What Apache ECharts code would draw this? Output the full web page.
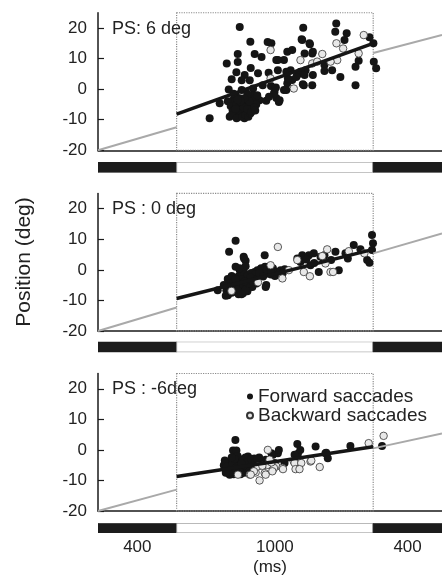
<!DOCTYPE html>
<html>
<head>
<meta charset="utf-8">
<script src="https://cdn.jsdelivr.net/npm/echarts@6/dist/echarts.min.js"></script>
<style>
html, body { margin: 0; padding: 0; background: #fff; }
#chart { width: 442px; height: 577px; }
</style>
</head>
<body>
<div id="chart"></div>
<script>
// time axis (ms): 400 ms pre, 1000 ms stimulus, 400 ms post (cut at xMax)
var xMax = 1750;
var phaseDurations = [400, 1000, 400];
var phaseLabels = ['400', '1000', '400'];
var yTicks = [-20, -10, 0, 10, 20];
var panelLabels = ['PS: 6 deg', 'PS : 0 deg', 'PS : -6deg'];

// PS 6 deg
var forward6 = [
  [721,20.3],[775,15.5],[863,15.4],[711,11.5],[797,11.5],[655,8.4],[711,8.9],[832,10.5],[777,6.9],[907,9.5],
  [704,5.5],[746,4.6],[814,5.2],[868,5.4],[680,3.2],[731,2.9],[772,2.9],[665,-0.1],[731,-0.3],[789,0.2],
  [838,1.3],[619,-4.6],[687,-3.6],[568,-9.5],[822,-3.6],[856,-3.8],[746,-5.7],[685,-6.9],[670,-9.0],[907,-2.9],
  [660,-4],[675,-5.5],[690,-7],[700,-8],[705,-5],[715,-6],[720,-3],[725,-8.5],[735,-7],[740,-4.5],
  [750,-6],[755,-8],[760,-3],[765,-5],[770,-7],[780,-4],[785,-6],[790,-2],[700,-2],[715,-9],
  [745,-9.5],[680,-8.5],[730,-5.5],[760,-1.5],[795,-3.5],[805,-5],[690,-1.5],[810,-2],
  [705,-9.5],[720,-7],[735,-9],[750,-8.5],[765,-9],[775,-8],[700,-6.5],[740,-6],[760,-6.5],[780,-7.5],
  [795,-6],[770,-4],[745,-3],[725,-4],[710,-3.5],[800,-7],
  [963,12.2],[988,12.8],[946,9.5],[1044,20.1],[1036,16.3],[1078,14.7],[1090,11.7],[980,6.2],[1014,4.6],[1056,6.2],
  [1047,1.3],[1090,1.3],[988,3.0],[963,1.9],[946,-0.3],[1030,5.7],[920,-4.2],
  [1212,21.5],[1207,18.8],[1265,18.3],[1254,16.1],[1381,17],[1401,15],[1039,16.1],[1076,15],[1093,12.2],[1051,11.7],
  [882,15],[1152,7.9],[1326,9.3],[1310,7.3],[1403,9.0],[1415,6.8],[1191,6.2],[1152,5.9],[1233,4.0],[1093,4.6],
  [1051,4.6],[1009,4.0],[958,5.7],[915,9.5],[915,6.2],[966,3.5],[1042,1.6],[1310,1.3],[958,-0.3],[924,-3.6],
  [898,-0.9],[880,1],[895,-1.5],[905,0.5],[870,-2.5]
];
var backward6 = [
  [878,12.8],[878,3.5],[1352,17.7],[1213,15],[1247,13.3],[1326,11.7],[1217,9.5],[1183,9.0],[1141,11.5],[1030,9.5],
  [1090,8.4],[1115,9.0],[996,0.2]
];
var fit6 = [[400,-8.2],[1400,15]];
var grayPre6 = [[0,-20],[400,-12.5]];
var grayPost6 = [[1400,11.8],[1750,17.7]];

// PS 0 deg
var forward0 = [
  [700,9.5],[667,5.9],[741,4.3],[751,3.0],[751,1.2],[848,4.8],[721,-0.1],[712,-2.3],[729,-3.9],[670,-4.5],
  [653,-6.7],[695,-7.2],[738,-7.7],[772,-5.6],[806,-4.5],[797,-0.7],[822,-0.1],[873,-0.1],[856,-5.0],[907,-0.7],
  [661,-8.3],[685,-5.6],[755,-3.4],[609,-6.7],[743,3.7],[734,-7.2],[785,-5.6],[811,-0.1],[853,-5.6],[929,-0.1],
  [1014,3.7],[1039,4.8],[1073,4.8],[1098,5.4],[1132,4.3],[1208,5.9],[1301,8.1],[1335,6.7],[1123,-0.7],[1225,-0.1],
  [1030,2.6],[1149,3.2],[1394,11.4],[1399,8.7],[1394,6.5],[1369,3.2],[1381,2.3],[1259,5.4],[1081,1.5],[1186,3.2],
  [1152,4.8],[1271,3.7],
  [640,-5],[660,-3],[680,-2],[700,-4],[705,-6],[720,-5],[730,-2],[745,-1],[760,-2],[770,-3.5],
  [780,-1],[790,-2.5],[800,-1.5],[830,-2],[840,-0.5],[860,-1],[880,-1.5],[900,-2],[760,-7],[715,-8],
  [680,-7.5],[830,0.5],[850,1],[890,0.5],[870,-1],[940,-1],[950,0.2],[1060,3.4],[1100,2.2],
  [650,-8.5],[670,-6],[690,-4],[710,-6.5],[725,-3],[740,-5],[750,-6.5],[765,-4.5],[775,-2.5],[790,-4],
  [700,-3],[730,-8],[745,-3.8],[810,-3],[820,-1],[840,-2.2],[860,0],[880,-0.2],[700,1],[720,0.5]
];
var backward0 = [
  [915,7.5],[878,1.5],[814,-4.1],[679,-6.9],[1166,6.7],[1141,4.5],[1276,6.1],[1355,5.4],[1014,3.2],[971,-0.1],
  [1047,-0.7],[1078,-2.1],[1183,-0.7],[1196,-0.7],[1157,2.1],[938,-2.8]
];
var fit0 = [[400,-9.4],[1400,6.7]];
var grayPre0 = [[0,-20],[400,-12.3]];
var grayPost0 = [[1400,5.4],[1750,11.9]];

// PS -6 deg
var forwardM6 = [
  [699,3.2],[687,-0.2],[704,-0.2],[763,-2.2],[890,-1.6],[915,-1.1],[831,-4.3],[670,-8.1],[853,-3.2],[920,0],
  [1014,1.9],[1107,1.1],[1157,-1.1],[1284,1.3],[1445,1.3],[1017,-1.3],[1029,0],[1000,-1.6],[1161,-0.9],[1169,-2.7],
  [882,-1.1],[949,-4.3],[898,-4.3],
  [640,-5],[650,-6.5],[660,-4],[670,-5.5],[680,-3.5],[690,-6],[700,-4.5],[705,-7],[715,-5],[720,-3],
  [730,-6],[740,-4],[745,-7.5],[755,-5.5],[765,-3.5],[775,-6],[785,-4.5],[795,-2.8],[805,-5.5],[815,-4],
  [660,-7.5],[690,-8],[725,-8],[750,-2.5],[710,-2],[820,-2.5],[840,-5],[860,-4.5],
  [645,-3.5],[655,-5.5],[675,-7],[685,-4.5],[695,-3],[710,-5.5],[720,-6.5],[735,-3.5],[745,-5],[760,-4],
  [770,-7],[780,-3],[790,-6],[800,-4],[810,-3],[825,-5],[700,-6],[730,-4.5],[650,-7.5],[680,-2.5]
];
var backwardM6 = [
  [864,0],[712,-8.1],[772,-8.1],[802,-7.4],[822,-10],[848,-7.6],[864,-4.9],[814,-5.4],[890,-6.5],[907,-5.4],
  [1377,2.2],[1453,4.6],[853,-8.1],[895,-5.9],[938,-5.9],[996,-3.8],[1022,-5.9],[1081,-3.8],[1128,-5.6],[793,-7],
  [777,-8.1],[836,-5.2],[882,-4.1],[873,-3.2],[887,-7],[941,-6.3],[1000,-4.3],[1034,-4.3],[1005,-6.3],[1025,-6.3],
  [1085,-3.5]
];
var fitM6 = [[400,-8.7],[1400,1]];
var grayPreM6 = [[0,-20],[400,-13]];
var grayPostM6 = [[1400,0.5],[1750,5.4]];

var panels = [
  { forward: forward6, backward: backward6, fit: fit6, pre: grayPre6, post: grayPost6 },
  { forward: forward0, backward: backward0, fit: fit0, pre: grayPre0, post: grayPost0 },
  { forward: forwardM6, backward: backwardM6, fit: fitM6, pre: grayPreM6, post: grayPostM6 }
];

var FONT = '"Liberation Sans", Arial, sans-serif';
var panelTops = [12.75, 193.45, 373.5];
var panelHeight = 137.5;
var barTops = [162, 341.7, 523.3];
var barHeight = 10.5;

// phase bars: [start, end, dark]
var phases = [];
var t = 0;
phaseDurations.forEach(function (d, i) {
  phases.push([t, t + d, i === 1 ? 0 : 1]);
  t += d;
});
var labelAt = {};
phases.forEach(function (p, i) {
  labelAt[(p[0] + Math.min(p[1], xMax)) / 2] = phaseLabels[i];
});

function renderPhase(params, api) {
  var a = api.coord([api.value(0), 1]);
  var b = api.coord([api.value(1), 0]);
  var dark = api.value(2) === 1;
  return {
    type: 'rect',
    shape: { x: a[0], y: a[1], width: b[0] - a[0], height: b[1] - a[1] },
    style: { fill: dark ? '#1c1c1c' : '#fff', stroke: dark ? '#1c1c1c' : '#8a8a8a', lineWidth: 1 }
  };
}

var grids = [], xAxes = [], yAxes = [], series = [], graphics = [];

panels.forEach(function (p, i) {
  grids.push({ left: 98, right: 0, top: panelTops[i], height: panelHeight });
  xAxes.push({
    type: 'value', gridIndex: i, min: 0, max: xMax,
    axisLine: { onZero: false, lineStyle: { color: '#1a1a1a', width: 1.5 } },
    axisTick: { show: false }, axisLabel: { show: false }, splitLine: { show: false }
  });
  yAxes.push({
    type: 'value', gridIndex: i, min: -20, max: 25,
    axisLine: { show: true, onZero: false, lineStyle: { color: '#1a1a1a', width: 1.5 } },
    axisTick: { inside: true, length: 6, customValues: yTicks, lineStyle: { color: '#1a1a1a', width: 1.2 } },
    axisLabel: { customValues: yTicks, fontSize: 17, color: '#222', fontFamily: FONT, margin: 11 },
    splitLine: { show: false }
  });

  series.push({
    type: 'scatter', name: 'Forward saccades', xAxisIndex: i, yAxisIndex: i,
    data: p.forward, symbolSize: 8, itemStyle: { color: '#151515', opacity: 1 },
    markArea: {
      silent: true,
      itemStyle: { color: 'rgba(0,0,0,0)', borderColor: '#8c8c8c', borderWidth: 1.2, borderType: 'dotted' },
      data: [[{ xAxis: 400, yAxis: 25 }, { xAxis: 1400, yAxis: -20 }]]
    }
  });
  [p.pre, p.post].forEach(function (seg) {
    series.push({
      type: 'line', xAxisIndex: i, yAxisIndex: i, data: seg, symbol: 'none', silent: true,
      lineStyle: { color: '#a9a9a9', width: 2 }
    });
  });
  series.push({
    type: 'line', xAxisIndex: i, yAxisIndex: i, data: p.fit, symbol: 'none', silent: true,
    lineStyle: { color: '#151515', width: 3.5 }
  });
  series.push({
    type: 'scatter', name: 'Backward saccades', xAxisIndex: i, yAxisIndex: i,
    data: p.backward, symbolSize: 7.5,
    itemStyle: { color: '#e8e8e8', borderColor: '#333', borderWidth: 0.8, opacity: 1 }
  });

  graphics.push({
    type: 'text', left: 112, top: panelTops[i] + 7,
    style: { text: panelLabels[i], fill: '#222', font: '18px ' + FONT }
  });
});

panels.forEach(function (p, i) {
  var gi = i + 3;
  grids.push({ left: 98, right: 0, top: barTops[i], height: barHeight });
  var last = i === 2;
  xAxes.push({
    type: 'value', gridIndex: gi, min: 0, max: xMax,
    axisLine: { show: false }, axisTick: { show: false }, splitLine: { show: false },
    axisLabel: {
      show: last, customValues: Object.keys(labelAt).map(Number),
      formatter: function (v) { return labelAt[v] || ''; },
      fontSize: 17, color: '#222', fontFamily: FONT, margin: 6
    },
    name: last ? '(ms)' : '', nameLocation: 'middle', nameGap: 26,
    nameTextStyle: { fontSize: 17, color: '#222', fontFamily: FONT }
  });
  yAxes.push({ type: 'value', gridIndex: gi, min: 0, max: 1, show: false });
  series.push({
    type: 'custom', xAxisIndex: gi, yAxisIndex: gi, data: phases, clip: true,
    renderItem: renderPhase, silent: true
  });
});

graphics.push({
  type: 'text', x: 24, y: 262, rotation: Math.PI / 2,
  style: { text: 'Position (deg)', font: '21px ' + FONT, fill: '#222', textAlign: 'center', textVerticalAlign: 'middle' }
});

var chart = echarts.init(document.getElementById('chart'), null, { renderer: 'canvas' });
chart.setOption({
  animation: false,
  backgroundColor: '#fff',
  grid: grids,
  xAxis: xAxes,
  yAxis: yAxes,
  legend: {
    data: ['Forward saccades', 'Backward saccades'],
    orient: 'vertical', left: 241, top: 382, itemGap: 0,
    itemWidth: 6, itemHeight: 6, icon: 'circle',
    textStyle: { fontSize: 19, color: '#222', fontFamily: FONT, lineHeight: 17 },
    selectedMode: false
  },
  graphic: graphics,
  series: series
});
</script>
</body>
</html>
